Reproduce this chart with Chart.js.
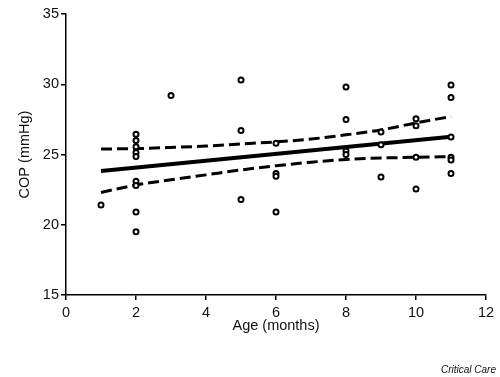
<!DOCTYPE html>
<html lang="en">

<head>
    <meta charset="UTF-8">
    <title>COP vs Age</title>
    <script src="https://cdn.jsdelivr.net/npm/chart.js"></script>
    <style>
        body { margin: 0; background: #fff; }
        .wrap { position: relative; width: 500px; height: 377px; }
        .source {
            position: absolute; right: 4px; bottom: 2px;
            font: italic 10px "Liberation Sans", Arial, sans-serif; color: #111;
        }
    </style>
</head>

<body>
    <div class="wrap">
        <canvas id="copChart" width="500" height="377"></canvas>
        <div class="source">Critical Care</div>
    </div>
    <script>
        // individual infants: age (months) and COP (mmHg)
        const ages = [1, 2, 2, 2, 2, 2, 2, 2, 2, 2, 3, 5, 5, 5, 6, 6, 6, 6,
            8, 8, 8, 8, 9, 9, 9, 10, 10, 10, 10, 11, 11, 11, 11, 11, 11];
        const cop = [21.4, 26.45, 26.0, 25.55, 25.15, 24.85, 23.1, 22.8, 20.9, 19.5,
            29.2, 30.3, 26.7, 21.8, 25.8, 23.65, 23.45, 20.9,
            29.8, 27.5, 25.25, 25.0, 26.6, 25.7, 23.4, 27.55, 27.05, 24.8, 22.55,
            29.95, 29.05, 26.25, 24.8, 24.6, 23.65];

        // regression line and its 95% confidence band
        const fitAges = [1, 11];
        const fitCop = [23.82, 26.27];
        const bandAges = [1, 2, 3, 4, 5, 6, 7, 8, 9, 10, 11];
        const bandUpper = [25.39, 25.42, 25.5, 25.6, 25.75, 25.9, 26.1, 26.4, 26.75, 27.25, 27.7];
        const bandLower = [22.3, 22.83, 23.2, 23.55, 23.9, 24.2, 24.45, 24.65, 24.75, 24.8, 24.85];

        const xTicks = [0, 2, 4, 6, 8, 10, 12];
        const yTicks = [15, 20, 25, 30, 35];

        const pair = (xs, ys) => xs.map((x, i) => ({ x: x, y: ys[i] }));
        const fontFamily = '"Liberation Sans", Arial, sans-serif';

        const ctx = document.getElementById('copChart').getContext('2d');
        new Chart(ctx, {
            type: 'scatter',
            data: {
                datasets: [{
                    label: 'COP',
                    data: pair(ages, cop),
                    pointRadius: 2.5,
                    pointBorderWidth: 2,
                    pointBorderColor: '#000',
                    pointBackgroundColor: '#fff',
                    showLine: false
                }, {
                    label: 'Fit',
                    type: 'line',
                    data: pair(fitAges, fitCop),
                    borderColor: '#000',
                    borderWidth: 4,
                    pointRadius: 0
                }, {
                    label: 'Upper 95% CI',
                    type: 'line',
                    data: pair(bandAges, bandUpper),
                    borderColor: '#000',
                    borderWidth: 3,
                    borderDash: [11, 5],
                    cubicInterpolationMode: 'monotone',
                    pointRadius: 0
                }, {
                    label: 'Lower 95% CI',
                    type: 'line',
                    data: pair(bandAges, bandLower),
                    borderColor: '#000',
                    borderWidth: 3,
                    borderDash: [11, 5],
                    cubicInterpolationMode: 'monotone',
                    pointRadius: 0
                }]
            },
            options: {
                responsive: false,
                animation: false,
                layout: {
                    padding: { left: 0, right: 14, top: 14, bottom: 0 }
                },
                plugins: {
                    legend: { display: false },
                    tooltip: { enabled: false }
                },
                scales: {
                    x: {
                        type: 'linear',
                        min: 0,
                        max: 12,
                        afterBuildTicks: scale => { scale.ticks = xTicks.map(v => ({ value: v })); },
                        afterFit: scale => { scale.height = 82; },
                        grid: { drawOnChartArea: false, tickLength: 5, color: '#000', lineWidth: 1.5 },
                        border: { color: '#000', width: 1.5 },
                        ticks: { padding: 4, color: '#111', font: { family: fontFamily, size: 14.5 } },
                        title: {
                            display: true,
                            text: 'Age (months)',
                            color: '#111',
                            font: { family: fontFamily, size: 14.5 },
                            padding: { top: 0, bottom: 42 }
                        }
                    },
                    y: {
                        min: 15,
                        max: 35,
                        afterBuildTicks: scale => { scale.ticks = yTicks.map(v => ({ value: v })); },
                        afterFit: scale => { scale.width = 66; },
                        grid: { drawOnChartArea: false, tickLength: 5, color: '#000', lineWidth: 1.5 },
                        border: { color: '#000', width: 1.5 },
                        ticks: { padding: 2, color: '#111', font: { family: fontFamily, size: 14.5 } },
                        title: {
                            display: true,
                            text: 'COP (mmHg)',
                            color: '#111',
                            font: { family: fontFamily, size: 14.5 },
                            padding: { top: 16, bottom: 0 }
                        }
                    }
                }
            }
        });
    </script>
</body>

</html>
